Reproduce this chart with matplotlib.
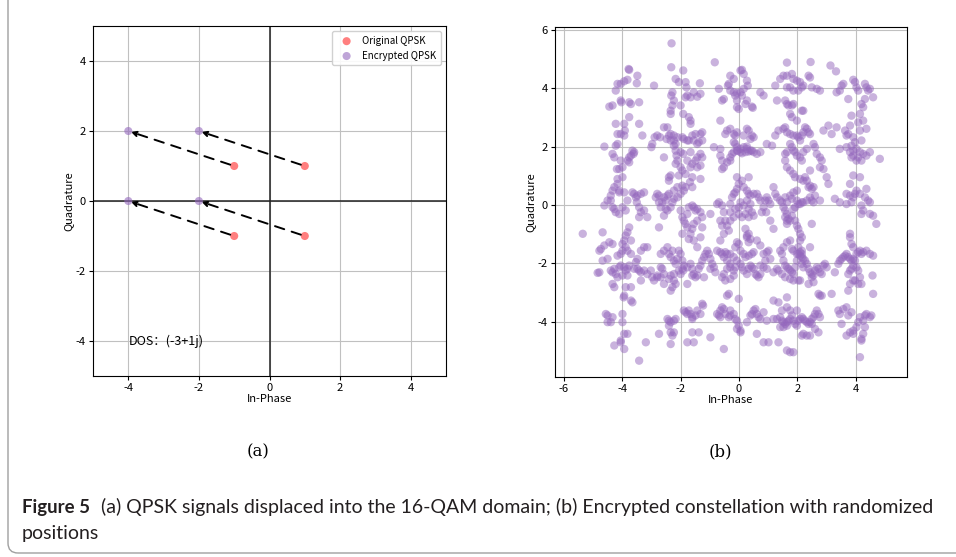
import numpy as np
import matplotlib
matplotlib.use("Agg")
import matplotlib.pyplot as plt
from matplotlib.patches import FancyBboxPatch

plt.rcParams['font.family'] = ['Noto Sans CJK SC', 'DejaVu Sans']
plt.rcParams['axes.unicode_minus'] = False

# (a) QPSK symbols and displacement of signal (DOS)
qpsk_i = [-1, 1, -1, 1]
qpsk_q = [1, 1, -1, -1]
dos = (-3, 1)
enc_i = [i + dos[0] for i in qpsk_i]
enc_q = [q + dos[1] for q in qpsk_q]

# (b) encrypted constellation (I, Q), grouped by rows
pts_top = [
    (-2.31, 5.54), (-0.83, 4.89), (-3.78, 4.66), (-3.76, 4.63), (-2.32, 4.72), (-1.91, 4.61), (1.64, 4.88),
    (2.45, 4.9), (3.13, 4.78), (3.32, 4.58), (0.1, 4.63), (-3.48, 4.43), (-3.82, 4.29), (-3.93, 4.24),
    (-4.05, 4.15), (-4.16, 4.15), (-4.22, 3.92), (-3.5, 4.17), (-2.91, 4.09), (-2.17, 4.32), (-2.06, 4.21),
    (-1.83, 4.21), (-1.8, 4.03), (-1.34, 4.17), (-1.55, 3.86), (-1.77, 3.75), (-1.83, 3.69), (-1.66, 3.69),
    (-1.43, 3.71), (-1.32, 3.81), (-2.28, 3.86), (-2.32, 3.75), (-2.23, 3.58), (-2.28, 3.41), (-2.34, 3.23),
    (-2.34, 3.12), (-2.0, 3.41), (-1.91, 3.12), (-1.72, 3.01), (-1.66, 2.89), (-1.66, 2.78), (-0.69, 3.98),
    (-0.3, 4.43), (-0.18, 4.32), (-0.35, 4.15), (-0.38, 4.09), (-0.3, 3.92), (-0.18, 3.86), (-0.13, 3.75),
    (-0.52, 3.63), (-0.58, 3.58), (-0.07, 3.58), (0.05, 4.61), (0.16, 4.49), (0.27, 4.26), (0.3, 4.09),
    (0.16, 3.98), (0.05, 3.86), (-0.07, 3.83), (0.1, 3.75), (0.27, 3.58), (0.22, 3.46), (-0.07, 3.35),
    (-0.01, 3.29), (0.73, 3.86), (0.84, 3.75), (0.44, 3.37), (0.47, 3.33), (1.24, 4.09), (1.41, 4.32),
    (1.52, 4.43), (1.64, 4.43), (1.81, 4.49), (1.86, 4.32), (1.98, 4.26), (2.09, 4.21), (2.15, 4.03),
    (2.03, 3.92), (1.86, 3.92), (1.75, 4.03), (1.64, 4.03), (2.38, 4.43), (2.43, 4.37), (2.2, 4.09),
    (2.49, 4.03), (2.66, 3.98), (1.3, 3.58), (1.58, 3.58), (1.64, 3.46), (1.69, 3.41), (1.81, 3.41),
    (1.86, 3.46), (1.75, 3.12), (1.81, 3.01), (2.15, 3.23), (2.2, 3.23), (1.98, 2.89), (2.77, 3.92),
    (3.34, 3.86), (3.45, 3.92), (3.51, 4.09), (3.57, 4.15), (3.91, 4.29), (3.97, 4.21), (4.02, 4.03),
    (4.08, 3.92), (4.31, 4.15), (4.36, 4.03), (4.42, 3.92), (4.48, 3.98), (4.59, 3.69), (4.31, 3.63),
    (4.19, 3.46), (4.25, 3.35), (4.14, 3.12), (3.74, 3.63), (3.85, 3.06), (-4.33, 3.41), (-4.44, 3.37),
    (-4.05, 3.58), (-4.03, 3.52), (-3.76, 3.52), (-3.7, 3.46), (-3.42, 3.52), (-3.76, 3.01), (-4.22, 2.78),
    (-3.93, 2.78), (-3.91, 2.55), (-3.93, 2.38), (-4.05, 2.43), (-4.16, 2.43), (-3.42, 2.78),
]
pts_upper = [
    (-4.61, 2.0), (-4.22, 2.03), (-4.16, 2.09), (-4.33, 1.75), (-4.27, 1.63), (-4.05, 1.52), (-3.99, 1.29),
    (-4.1, 1.23), (-4.18, 1.23), (-3.65, 1.86), (-3.59, 1.81), (-3.7, 1.69), (-3.76, 1.63), (-3.82, 1.52),
    (-3.76, 1.46), (-3.61, 1.75), (-3.31, 2.38), (-2.97, 2.09), (-3.0, 1.98), (-2.8, 2.38), (-2.7, 2.32),
    (-2.89, 2.32), (-2.57, 2.66), (-2.45, 2.66), (-2.34, 2.43), (-2.23, 2.38), (-2.4, 2.38), (-2.48, 2.26),
    (-2.34, 2.21), (-2.23, 2.21), (-2.17, 2.09), (-2.11, 2.32), (-1.94, 2.32), (-1.89, 2.26), (-1.77, 2.21),
    (-2.57, 1.63), (-2.23, 2.03), (-2.17, 1.86), (-2.14, 1.69), (-2.11, 1.52), (-2.17, 1.41), (-2.0, 1.29),
    (-1.94, 1.18), (-1.83, 1.06), (-2.06, 1.01), (-2.4, 0.95), (-2.4, 0.83), (-2.34, 1.01), (-2.0, 1.81),
    (-1.91, 1.75), (-1.77, 1.52), (-1.72, 2.21), (-1.55, 2.21), (-1.38, 2.15), (-1.26, 2.21), (-1.32, 2.43),
    (-1.26, 2.49), (-1.6, 2.38), (-1.49, 2.43), (-1.43, 2.09), (-1.66, 1.81), (-1.32, 1.75), (-1.26, 1.63),
    (-1.43, 1.63), (-1.49, 1.52), (-1.6, 1.41), (-1.66, 1.29), (-1.43, 1.29), (-1.32, 1.35), (-1.32, 0.89),
    (-1.6, 0.95), (-1.68, 0.78), (-1.6, 0.61), (-0.86, 1.98), (-0.64, 1.92), (-0.64, 1.69), (-0.58, 1.52),
    (-0.52, 1.29), (-0.58, 1.23), (-0.41, 1.46), (-0.3, 1.63), (-0.24, 1.75), (-0.18, 1.81), (-0.07, 1.86),
    (0.05, 1.92), (0.16, 1.98), (0.27, 1.92), (0.39, 1.86), (0.5, 1.81), (0.61, 1.75), (0.73, 1.81),
    (-0.3, 1.52), (-0.64, 2.89), (-0.47, 2.43), (-0.41, 2.55), (-0.3, 2.61), (-0.18, 2.43), (-0.13, 2.38),
    (-0.07, 2.49), (0.16, 2.38), (0.27, 2.61), (0.33, 2.55), (0.44, 2.38), (0.5, 2.32), (0.39, 2.26),
    (-0.18, 2.15), (-0.13, 2.09), (-0.07, 1.98), (-0.05, 1.86), (0.05, 1.81), (0.1, 1.77), (0.22, 1.81),
    (0.33, 1.83), (0.44, 1.86), (0.27, 2.0), (0.33, 0.95), (0.95, 2.09), (1.13, 2.03), (1.24, 2.38),
    (1.35, 2.55), (1.52, 2.61), (1.58, 2.66), (1.64, 2.49), (1.75, 2.43), (1.86, 2.38), (1.98, 2.38),
    (2.03, 2.32), (2.09, 2.21), (2.15, 2.38), (2.2, 2.49), (2.26, 2.66), (2.32, 2.61), (2.38, 2.49),
    (2.43, 2.43), (2.55, 2.09), (2.6, 1.98), (2.66, 1.75), (2.77, 1.63), (2.83, 1.52), (1.75, 2.09),
    (1.81, 1.98), (1.86, 1.86), (1.92, 1.81), (1.98, 1.69), (2.09, 1.63), (2.15, 1.52), (2.2, 1.81),
    (2.32, 1.92), (1.64, 1.81), (1.58, 1.75), (1.58, 1.52), (1.64, 1.29), (1.75, 1.18), (1.86, 1.06),
    (1.92, 0.95), (2.09, 0.89), (2.2, 0.83), (2.32, 0.83), (2.43, 0.66), (2.55, 0.61), (2.26, 0.95),
    (2.43, 1.18), (2.77, 1.29), (2.89, 1.23), (3.0, 0.95), (3.06, 0.72), (3.06, 2.72), (2.89, 2.55),
    (3.17, 2.43), (3.34, 2.66), (3.63, 2.55), (3.8, 2.72), (3.74, 2.43), (3.68, 2.38), (3.91, 2.32),
    (3.97, 2.15), (3.85, 2.03), (4.02, 1.92), (4.19, 2.21), (3.91, 1.86), (4.14, 2.55), (4.36, 2.61),
    (4.08, 2.83), (4.25, 2.89), (3.45, 1.92), (3.68, 1.98), (3.8, 1.81), (3.91, 1.69), (4.08, 1.63),
    (4.14, 1.81), (4.25, 1.75), (4.36, 1.69), (4.48, 1.81), (4.82, 1.58), (4.02, 1.52), (4.19, 1.52),
    (3.85, 1.63), (3.91, 1.01), (4.14, 0.95), (3.8, 0.72), (-3.99, 0.95), (-4.16, 0.89), (-4.16, 0.72),
    (-4.27, 0.61), (-4.1, 0.43),
]
pts_mid = [
    (-4.33, 0.49), (-4.39, 0.32), (-4.39, 0.15), (-4.33, -0.08), (-4.27, -0.14), (-4.22, -0.25), (-4.1, -0.31),
    (-3.99, -0.08), (-3.88, -0.19), (-4.61, -0.02), (-4.5, 0.15), (-4.1, 0.49), (-3.93, 0.43), (-3.82, 0.15),
    (-3.76, -0.77), (-3.82, -0.94), (-3.88, -1.05), (-3.93, -1.22), (-3.99, -1.34), (-3.7, -1.22),
    (-3.65, 0.43), (-3.59, 0.38), (-3.53, 0.26), (-3.48, 0.32), (-3.36, 0.38), (-3.25, 0.43), (-3.5, 0.09),
    (-3.42, -0.08), (-3.36, -0.25), (-3.25, -0.19), (-3.14, -0.42), (-3.42, -0.42), (-2.85, 0.26), (-2.8, 0.38),
    (-2.74, 0.32), (-2.57, 0.26), (-2.51, 0.15), (-2.63, 0.09), (-2.74, 0.09), (-2.68, -0.08), (-2.51, -0.14),
    (-2.45, -0.19), (-2.34, -0.08), (-2.28, 0.09), (-2.23, 0.21), (-2.11, 0.26), (-2.0, 0.38), (-1.89, 0.49),
    (-1.83, 0.61), (-1.94, 0.66), (-2.11, 0.61), (-2.23, 0.49), (-2.4, 0.38), (-2.45, 0.32), (-2.57, -0.37),
    (-2.74, -0.77), (-2.0, -0.19), (-1.94, -0.42), (-1.89, -0.54), (-1.83, -0.65), (-1.77, -0.31),
    (-1.72, -0.08), (-1.6, -0.02), (-1.55, -0.08), (-1.49, -0.19), (-1.43, -0.14), (-1.32, -0.25),
    (-1.26, -0.42), (-1.43, -0.54), (-1.55, -0.65), (-1.6, -0.82), (-1.66, -0.99), (-1.72, -1.17),
    (-1.55, -1.22), (-1.43, -1.45), (-1.32, -1.11), (-1.26, -0.77), (-1.77, -0.77), (-1.94, -0.99),
    (-0.98, -0.31), (-0.75, 0.03), (-0.69, 0.09), (-0.58, -0.02), (-0.52, -0.25), (-0.47, -0.54),
    (-0.64, -0.54), (-0.58, -0.71), (-0.41, -0.71), (-0.35, -0.88), (-0.52, -0.99), (-0.64, -1.22),
    (-0.3, -0.54), (-0.3, -0.25), (-0.3, 0.03), (-0.24, 0.26), (-0.18, 0.38), (-0.13, 0.43), (-0.07, 0.55),
    (-0.01, 0.72), (-0.07, 0.95), (0.1, 0.83), (0.16, 0.61), (0.27, 0.49), (0.33, 0.38), (0.39, 0.32),
    (0.5, 0.38), (0.61, 0.38), (0.67, 0.26), (0.73, 0.15), (0.39, 0.03), (0.33, -0.14), (0.44, -0.25),
    (0.5, -0.37), (0.33, -0.42), (0.22, -0.31), (0.1, -0.42), (-0.01, -0.31), (-0.18, -0.42), (-0.13, -0.14),
    (-0.01, -0.08), (0.16, -0.02), (0.27, 0.15), (0.05, 0.09), (0.95, 0.26), (0.9, 0.15), (0.84, -0.08),
    (0.78, -0.25), (0.93, -0.25), (1.07, 0.03), (1.01, 0.15), (1.18, 0.61), (1.24, 0.38), (1.3, 0.26),
    (1.41, 0.15), (1.47, 0.09), (1.52, -0.08), (1.58, -0.19), (1.64, -0.31), (1.69, -0.48), (1.75, -0.54),
    (1.81, -0.37), (1.86, -0.14), (1.92, -0.08), (1.98, 0.15), (2.03, 0.03), (2.09, 0.03), (2.15, 0.09),
    (2.2, 0.09), (2.32, 0.15), (2.43, 0.26), (2.49, 0.15), (2.55, 0.09), (2.6, 0.32), (2.49, 0.55),
    (2.38, 0.61), (1.75, 0.32), (1.81, 0.21), (1.58, 0.26), (1.64, 0.09), (1.86, 0.43), (1.98, 0.49),
    (1.92, -0.54), (1.98, -0.71), (2.03, -0.82), (2.09, -0.99), (2.15, -1.11), (2.09, -1.22), (2.03, -1.45),
    (2.15, -1.57), (2.49, -0.65), (2.43, -1.45), (1.07, -0.54), (1.18, -0.82), (1.58, -0.42), (1.64, -0.54),
    (1.64, -0.65), (2.77, 0.15), (3.28, 0.21), (3.45, 0.09), (3.68, 0.03), (3.85, 0.09), (3.91, 0.26),
    (3.97, 0.38), (4.02, 0.49), (4.14, 0.38), (4.31, 0.26), (4.36, 0.55), (4.42, 0.15), (4.48, 0.09),
    (4.19, -0.02), (4.19, -0.31), (4.25, -0.19), (4.48, -0.31), (4.59, -0.37), (4.7, -0.65), (3.68, 0.38),
    (3.8, 0.32), (-5.35, -0.99), (-4.67, -0.94), (3.8, -0.99),
]
pts_lower = [
    (-4.78, -1.57), (-4.73, -1.51), (-4.61, -1.39), (-4.44, -1.28), (-4.33, -1.34), (-4.5, -1.85),
    (-4.67, -1.91), (-4.78, -2.31), (-4.84, -2.33), (-4.39, -2.25), (-4.33, -2.31), (-4.27, -2.19),
    (-4.22, -2.37), (-4.33, -2.71), (-4.27, -2.82), (-4.1, -2.14), (-4.05, -2.08), (-4.16, -1.74),
    (-4.05, -1.68), (-3.99, -1.57), (-3.88, -1.45), (-3.82, -1.57), (-3.7, -1.68), (-3.76, -2.08),
    (-3.82, -2.19), (-3.93, -2.14), (-3.88, -2.25), (-4.16, -2.48), (-3.99, -2.42), (-3.82, -2.42),
    (-3.88, -2.82), (-3.7, -2.82), (-3.59, -2.19), (-3.53, -1.96), (-3.48, -1.85), (-3.42, -2.25),
    (-3.36, -2.31), (-3.36, -2.59), (-3.48, -2.19), (-3.7, -3.28), (-3.65, -3.34), (-3.93, -3.11),
    (-3.95, -3.17), (-3.36, -1.57), (-3.25, -1.45), (-3.14, -1.45), (-3.25, -2.25), (-3.14, -2.37),
    (-3.02, -2.25), (-2.97, -2.48), (-2.91, -2.59), (-2.8, -2.48), (-2.68, -1.68), (-2.57, -1.57),
    (-2.45, -1.45), (-2.4, -1.68), (-2.34, -1.79), (-2.28, -1.57), (-2.23, -1.91), (-2.17, -2.02),
    (-2.11, -1.85), (-2.06, -1.57), (-2.0, -1.68), (-1.94, -1.91), (-1.89, -2.08), (-1.94, -2.19),
    (-2.06, -2.25), (-2.0, -2.37), (-1.91, -2.25), (-1.77, -2.14), (-1.66, -2.02), (-1.6, -2.19),
    (-1.55, -2.37), (-1.49, -2.48), (-1.43, -2.42), (-1.38, -2.19), (-1.32, -2.08), (-1.26, -1.91),
    (-1.2, -1.79), (-1.15, -1.68), (-1.09, -1.57), (-1.03, -1.68), (-0.98, -1.85), (-0.92, -2.02),
    (-0.86, -2.14), (-0.81, -2.31), (-0.98, -2.19), (-1.2, -2.48), (-2.23, -2.37), (-2.34, -2.42),
    (-2.57, -2.37), (-2.68, -2.48), (-2.8, -2.42), (-2.68, -2.14), (-2.63, -2.19), (-2.57, -2.71),
    (-2.4, -2.54), (-2.23, -2.59), (-2.17, -2.71), (-1.77, -2.71), (-1.6, -2.42), (-2.28, -2.82),
    (-2.34, -2.94), (-0.75, -1.57), (-0.64, -1.62), (-0.58, -1.68), (-0.47, -1.62), (-0.41, -1.68),
    (-0.3, -1.68), (-0.18, -1.79), (-0.07, -1.91), (0.05, -2.02), (0.1, -2.14), (0.16, -2.25), (0.27, -2.37),
    (0.33, -2.19), (0.39, -2.08), (0.44, -2.14), (0.5, -2.19), (0.56, -2.37), (0.61, -2.42), (0.67, -2.48),
    (0.73, -2.37), (-0.3, -2.14), (-0.41, -2.19), (-0.52, -2.37), (-0.58, -2.48), (-0.47, -2.59),
    (-0.3, -2.54), (-0.18, -2.42), (-0.18, -2.25), (-0.13, -2.14), (-0.3, -2.02), (-0.41, -1.91),
    (-0.52, -1.79), (-0.13, -1.45), (-0.07, -1.28), (-0.01, -1.34), (0.05, -1.57), (0.16, -1.68),
    (0.22, -1.79), (0.33, -1.74), (0.44, -1.68), (0.5, -1.62), (0.33, -1.28), (0.27, -1.11), (0.39, -1.17),
    (0.22, -0.82), (0.27, -1.05), (0.33, -0.99), (0.61, -1.22), (0.73, -1.39), (0.84, -1.68), (0.95, -1.62),
    (1.01, -1.57), (0.73, -2.08), (0.84, -2.14), (0.95, -2.19), (0.9, -1.91), (1.07, -1.85), (-0.35, -3.05),
    (-0.41, -3.11), (-0.01, -3.22), (-0.64, -3.62), (1.18, -3.28), (1.35, -3.34), (1.41, -1.57),
    (1.47, -1.68), (1.52, -1.91), (1.58, -2.08), (1.64, -2.14), (1.69, -2.19), (1.75, -2.25), (1.81, -2.31),
    (1.86, -2.37), (1.92, -2.14), (1.98, -1.91), (2.03, -1.68), (2.09, -1.74), (2.15, -1.79), (2.2, -1.85),
    (2.26, -1.91), (2.32, -2.02), (2.38, -2.19), (2.43, -2.31), (2.49, -2.37), (2.55, -2.42), (2.6, -2.25),
    (2.66, -2.14), (2.72, -2.19), (2.77, -2.31), (2.83, -2.37), (2.89, -2.08), (2.94, -2.02), (3.0, -2.14),
    (1.52, -1.45), (1.64, -1.28), (1.75, -1.22), (1.81, -1.51), (1.86, -1.57), (1.98, -1.68), (2.09, -1.62),
    (2.15, -1.68), (1.3, -2.19), (1.35, -2.25), (1.18, -2.31), (1.47, -2.37), (1.58, -2.48), (1.75, -2.54),
    (1.86, -2.59), (2.03, -2.59), (2.38, -2.71), (2.49, -2.48), (2.55, -2.65), (2.15, -2.02), (2.2, -2.14),
    (1.64, -3.17), (2.09, -2.59), (2.72, -3.05), (2.77, -3.11), (2.83, -3.11), (3.17, -3.05), (3.28, -2.31),
    (3.4, -2.02), (3.45, -1.91), (3.51, -1.85), (3.57, -1.79), (3.63, -1.74), (3.68, -1.68), (3.74, -1.79),
    (3.8, -1.85), (3.85, -1.91), (3.91, -1.85), (3.97, -1.91), (4.02, -1.68), (4.08, -1.62), (4.14, -1.57),
    (4.19, -1.68), (4.25, -1.62), (4.36, -1.57), (4.48, -1.68), (4.59, -1.74), (4.57, -2.42), (3.91, -2.08),
    (3.85, -2.19), (3.8, -2.25), (3.74, -2.37), (4.02, -2.14), (4.08, -2.25), (4.14, -2.48), (3.91, -1.45),
    (3.85, -1.34), (3.8, -1.11), (3.8, -2.71), (3.91, -2.59), (3.74, -2.94), (3.97, -2.59), (4.08, -2.71),
    (4.19, -2.71), (4.59, -3.05),
]
pts_bottom = [
    (-4.56, -3.74), (-4.5, -3.79), (-4.39, -4.02), (-4.33, -3.85), (-4.5, -4.02), (-3.99, -3.74),
    (-3.99, -4.02), (-3.93, -4.42), (-3.82, -4.42), (-4.05, -4.65), (-4.05, -4.71), (-3.93, -4.94),
    (-4.27, -4.82), (-3.42, -5.34), (-3.19, -4.71), (-2.74, -4.42), (-2.45, -3.91), (-2.4, -3.97),
    (-2.34, -4.02), (-2.23, -3.97), (-2.17, -3.91), (-2.4, -4.14), (-2.34, -4.37), (-2.28, -4.48),
    (-2.23, -4.37), (-2.34, -4.77), (-1.89, -3.62), (-1.83, -3.68), (-1.77, -3.74), (-1.72, -3.62),
    (-1.66, -3.74), (-1.6, -3.85), (-1.6, -3.91), (-1.49, -3.79), (-1.43, -3.62), (-1.32, -3.74),
    (-1.26, -3.39), (-1.23, -3.45), (-1.38, -4.37), (-1.6, -4.37), (-1.77, -4.71), (-1.55, -4.71),
    (-0.98, -4.54), (-0.52, -4.94), (-0.75, -3.74), (-0.69, -3.79), (-0.64, -3.85), (-0.47, -3.74),
    (-0.35, -3.85), (-0.3, -3.79), (-0.58, -3.51), (-0.52, -3.57), (-0.3, -3.62), (-0.18, -3.74),
    (-0.13, -3.91), (-0.07, -3.97), (-0.01, -4.14), (0.05, -4.31), (-0.07, -4.25), (0.05, -4.37),
    (0.27, -4.02), (0.39, -3.79), (0.44, -3.74), (0.5, -3.62), (0.56, -3.57), (0.61, -3.74), (0.67, -3.85),
    (0.73, -3.91), (0.95, -3.97), (0.84, -3.68), (0.61, -4.42), (0.84, -4.71), (1.01, -4.71), (1.35, -4.71),
    (1.64, -4.99), (1.75, -5.05), (1.86, -5.05), (1.18, -3.91), (1.3, -3.91), (1.41, -3.85), (1.47, -3.97),
    (1.52, -4.02), (1.58, -4.08), (1.64, -4.02), (1.69, -3.97), (1.75, -3.91), (1.81, -3.79), (1.86, -3.97),
    (1.92, -4.08), (1.98, -4.14), (2.03, -3.97), (2.09, -3.91), (2.15, -3.85), (2.2, -3.91), (2.26, -3.97),
    (2.32, -4.02), (2.38, -4.08), (2.43, -4.02), (2.49, -3.91), (2.55, -3.85), (2.6, -3.74), (2.66, -3.62),
    (2.72, -3.74), (2.77, -3.85), (2.49, -4.08), (2.6, -4.25), (2.72, -4.37), (2.2, -4.42), (2.15, -4.48),
    (2.32, -4.48), (2.43, -4.48), (1.41, -4.19), (1.52, -4.19), (1.64, -4.14), (1.47, -3.62), (1.64, -3.51),
    (1.75, -3.62), (1.98, -3.62), (3.4, -3.62), (3.45, -3.74), (3.51, -4.08), (3.68, -4.48), (3.8, -4.37),
    (3.91, -4.31), (4.02, -4.19), (4.08, -4.02), (4.14, -3.85), (4.25, -3.97), (4.31, -3.79), (4.36, -3.74),
    (4.48, -3.85), (4.53, -3.79), (4.31, -4.19), (4.25, -4.42), (4.19, -4.59), (3.91, -4.42), (3.74, -3.79),
    (3.85, -3.68), (4.19, -4.65), (4.14, -5.22), (3.57, -3.57), (3.68, -3.51),
]
cloud = np.array(pts_top + pts_upper + pts_mid + pts_lower + pts_bottom)

W, H = 956, 557
fig = plt.figure(figsize=(W / 100, H / 100), dpi=100)
fig.patch.set_facecolor("white")

# outer frame of the figure panel (rounded corner bottom left)
frame = FancyBboxPatch((8, 4), 1100, 700, boxstyle="round,pad=0,rounding_size=10",
                       transform=None, fill=False, ec="#a0a0a0", lw=1.0)
fig.patches.append(frame)

tick_fs = 8

# ---------------- (a) ----------------
ax1 = fig.add_axes([93 / W, 1 - 376 / H, 353 / W, 350 / H])
ax1.scatter(qpsk_i, qpsk_q, s=34, color="red", alpha=0.5, edgecolors="none", label="Original QPSK", zorder=3)
ax1.scatter(enc_i, enc_q, s=34, color="tab:purple", alpha=0.6, edgecolors="none", label="Encrypted QPSK", zorder=3)
for x0, y0, x1, y1 in zip(qpsk_i, qpsk_q, enc_i, enc_q):
    ax1.annotate("", xy=(x1, y1), xytext=(x0, y0),
                 arrowprops=dict(arrowstyle="-|>", linestyle=(0, (5, 4)), color="black", lw=1.4,
                                 mutation_scale=8, shrinkA=3, shrinkB=2), zorder=4)
ax1.axhline(0, color="#222222", lw=1.1, zorder=2)
ax1.axvline(0, color="#222222", lw=1.1, zorder=2)
ax1.set_xlim(-5, 5)
ax1.set_ylim(-5, 5)
ax1.set_xticks([-4, -2, 0, 2, 4])
ax1.set_yticks([-4, -2, 0, 2, 4])
ax1.grid(True, color="#c0c0c0", lw=0.8)
ax1.set_axisbelow(True)
ax1.tick_params(labelsize=tick_fs, length=3, pad=2)
ax1.set_xlabel("In-Phase", fontsize=tick_fs, labelpad=1)
ax1.set_ylabel("Quadrature", fontsize=tick_fs, labelpad=2)
ax1.text(-4, -4, "DOS：(-3+1j)", fontsize=9, va="center", ha="left")
ax1.legend(loc="upper right", fontsize=7, handletextpad=0.6, borderpad=0.5, framealpha=0.9)

# ---------------- (b) ----------------
ax2 = fig.add_axes([555 / W, 1 - 377 / H, 352 / W, 350 / H])
ax2.scatter(cloud[:, 0], cloud[:, 1], s=36, color="tab:purple", alpha=0.5, edgecolors="none", zorder=3)
ax2.set_xlim(-6.3, 5.75)
ax2.set_ylim(-5.9, 6.1)
ax2.set_xticks([-6, -4, -2, 0, 2, 4])
ax2.set_yticks([-4, -2, 0, 2, 4, 6])
ax2.grid(True, color="#c0c0c0", lw=0.8)
ax2.set_axisbelow(True)
ax2.tick_params(labelsize=tick_fs, length=3, pad=2)
ax2.set_xlabel("In-Phase", fontsize=tick_fs, labelpad=1)
ax2.set_ylabel("Quadrature", fontsize=tick_fs, labelpad=2)

# sub-captions and figure caption
fig.text(258 / W, 1 - 452 / H, "(a)", ha="center", va="center", fontsize=12, family="DejaVu Serif")
fig.text(720 / W, 1 - 452 / H, "(b)", ha="center", va="center", fontsize=12, family="DejaVu Serif")

cap_fs = 14
fig.text(22 / W, 1 - 507 / H, "Figure 5", ha="left", va="center", fontsize=cap_fs - 0.6,
         family="Lato", weight="bold", color="#231f20")
fig.text(101 / W, 1 - 507 / H, "(a) QPSK signals displaced into the 16-QAM domain; (b) Encrypted constellation with randomized",
         ha="left", va="center", fontsize=cap_fs, family="Lato", color="#231f20")
fig.text(22 / W, 1 - 533 / H, "positions", ha="left", va="center", fontsize=cap_fs, family="Lato", color="#231f20")

fig.savefig("out.png", dpi=100)
